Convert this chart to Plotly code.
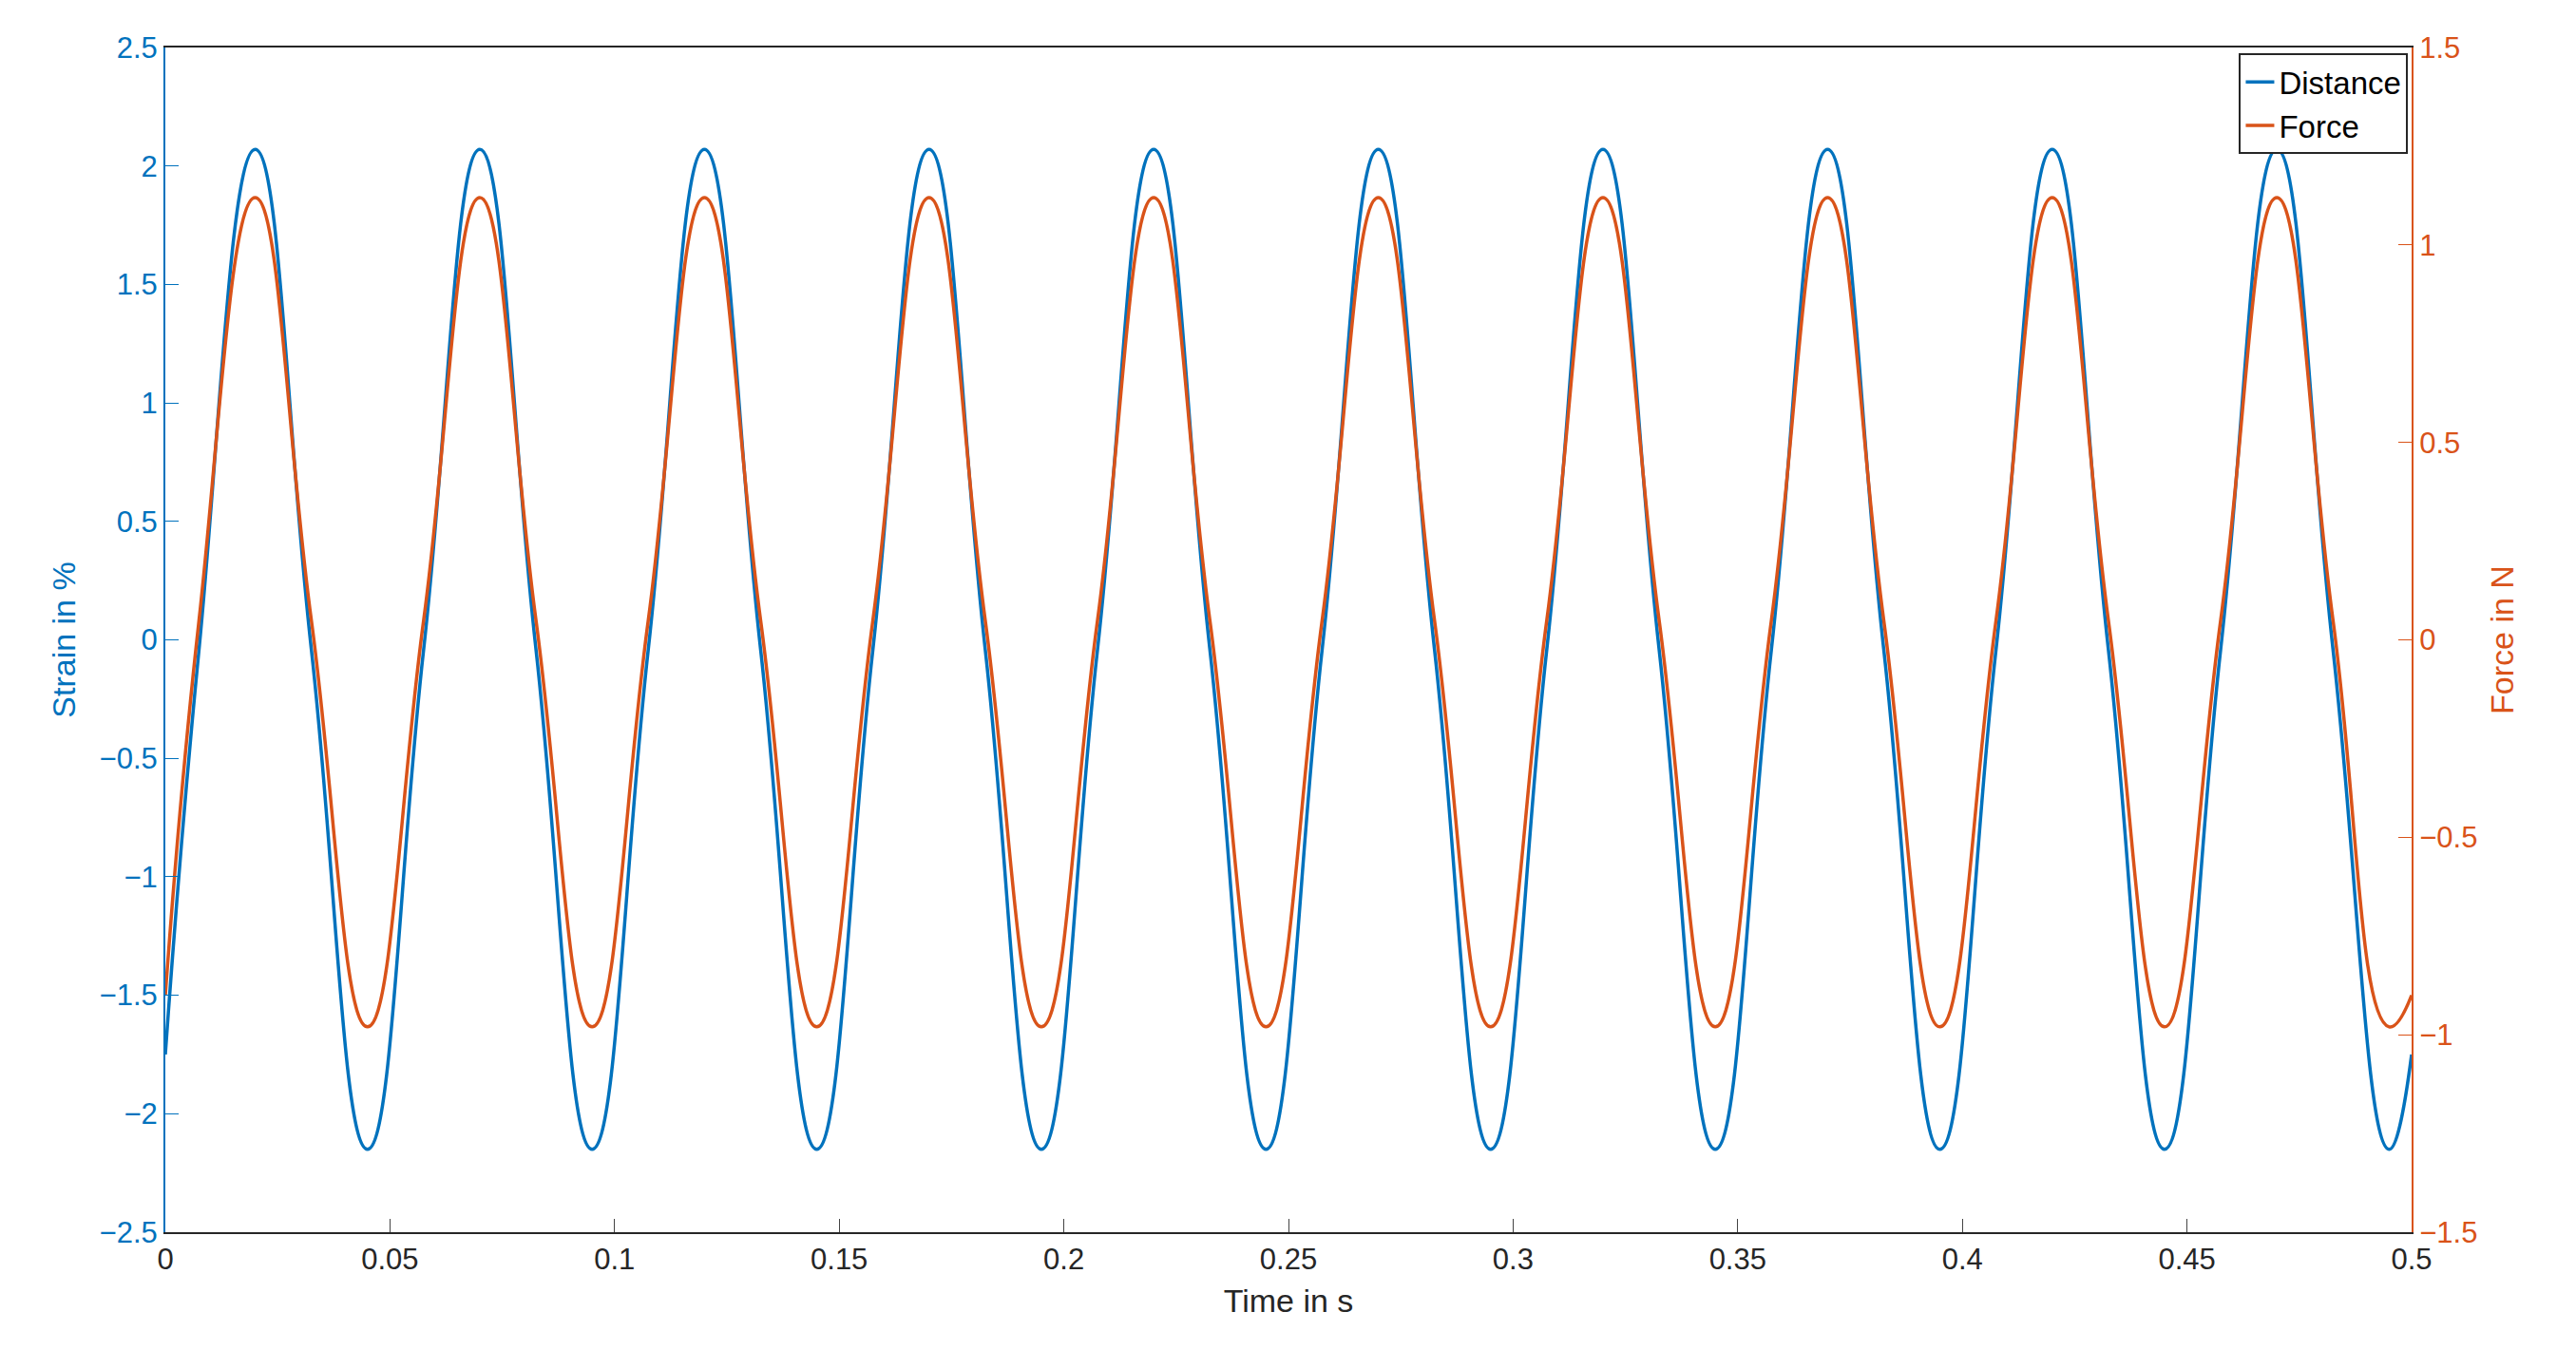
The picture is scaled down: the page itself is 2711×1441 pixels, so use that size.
import plotly.graph_objects as go

time_s = [0, 0.0075, 0.02, 0.0325, 0.045, 0.0575, 0.07, 0.0825, 0.095,
          0.1075, 0.12, 0.1325, 0.145, 0.1575, 0.17, 0.1825, 0.195,
          0.2075, 0.22, 0.2325, 0.245, 0.2575, 0.27, 0.2825, 0.295,
          0.3075, 0.32, 0.3325, 0.345, 0.3575, 0.37, 0.3825, 0.395,
          0.4075, 0.42, 0.4325, 0.445, 0.4575, 0.47, 0.4825, 0.495, 0.5]
strain = [-1.75, -0.04, 2.07, -0.04, -2.15, -0.04, 2.07, -0.04, -2.15,
          -0.04, 2.07, -0.04, -2.15, -0.04, 2.07, -0.04, -2.15,
          -0.04, 2.07, -0.04, -2.15, -0.04, 2.07, -0.04, -2.15,
          -0.04, 2.07, -0.04, -2.15, -0.04, 2.07, -0.04, -2.15,
          -0.04, 2.07, -0.04, -2.15, -0.04, 2.07, -0.04, -2.15, -1.75]
force = [-0.9, 0.05, 1.12, 0.05, -0.98, 0.05, 1.12, 0.05, -0.98,
         0.05, 1.12, 0.05, -0.98, 0.05, 1.12, 0.05, -0.98,
         0.05, 1.12, 0.05, -0.98, 0.05, 1.12, 0.05, -0.98,
         0.05, 1.12, 0.05, -0.98, 0.05, 1.12, 0.05, -0.98,
         0.05, 1.12, 0.05, -0.98, 0.05, 1.12, 0.05, -0.98, -0.9]

BLUE = "#0072BD"
RED = "#D95319"
F = "Liberation Sans"

fig = go.Figure()
fig.add_trace(go.Scatter(x=time_s, y=strain, name="Distance", mode="lines",
                         line=dict(color=BLUE, width=3.5, shape="spline", smoothing=1.3)))
fig.add_trace(go.Scatter(x=time_s, y=force, name="Force", mode="lines", yaxis="y2",
                         line=dict(color=RED, width=3.5, shape="spline", smoothing=1.3)))

fig.update_layout(
    width=2711, height=1441,
    paper_bgcolor="white", plot_bgcolor="white",
    margin=dict(l=166, r=181, t=42, b=152),
    font=dict(family=F, size=31, color="#262626"),
    xaxis=dict(range=[0, 0.5], dtick=0.05, ticks="inside", ticklen=14,
               showline=True, linecolor="#262626", linewidth=2, mirror=True,
               showgrid=False, zeroline=False,
               title=dict(text="Time in s", font=dict(size=34))),
    yaxis=dict(range=[-2.5, 2.5], dtick=0.5, ticks="inside", ticklen=14,
               showline=True, linecolor=BLUE, linewidth=2, tickcolor=BLUE,
               tickfont=dict(color=BLUE), showgrid=False, zeroline=False,
               title=dict(text="Strain in %", font=dict(color=BLUE, size=34))),
    yaxis2=dict(range=[-1.5, 1.5], dtick=0.5, ticks="inside", ticklen=14,
                overlaying="y", side="right",
                showline=True, linecolor=RED, linewidth=2, tickcolor=RED,
                tickfont=dict(color=RED), showgrid=False, zeroline=False,
                title=dict(text="Force in N", font=dict(color=RED, size=34))),
    legend=dict(x=0.9985, y=0.995, xanchor="right", yanchor="top",
                bgcolor="white", bordercolor="#262626", borderwidth=2,
                font=dict(size=33, color="black"), tracegroupgap=0),
    showlegend=True,
)
fig.write_html("out.html")
